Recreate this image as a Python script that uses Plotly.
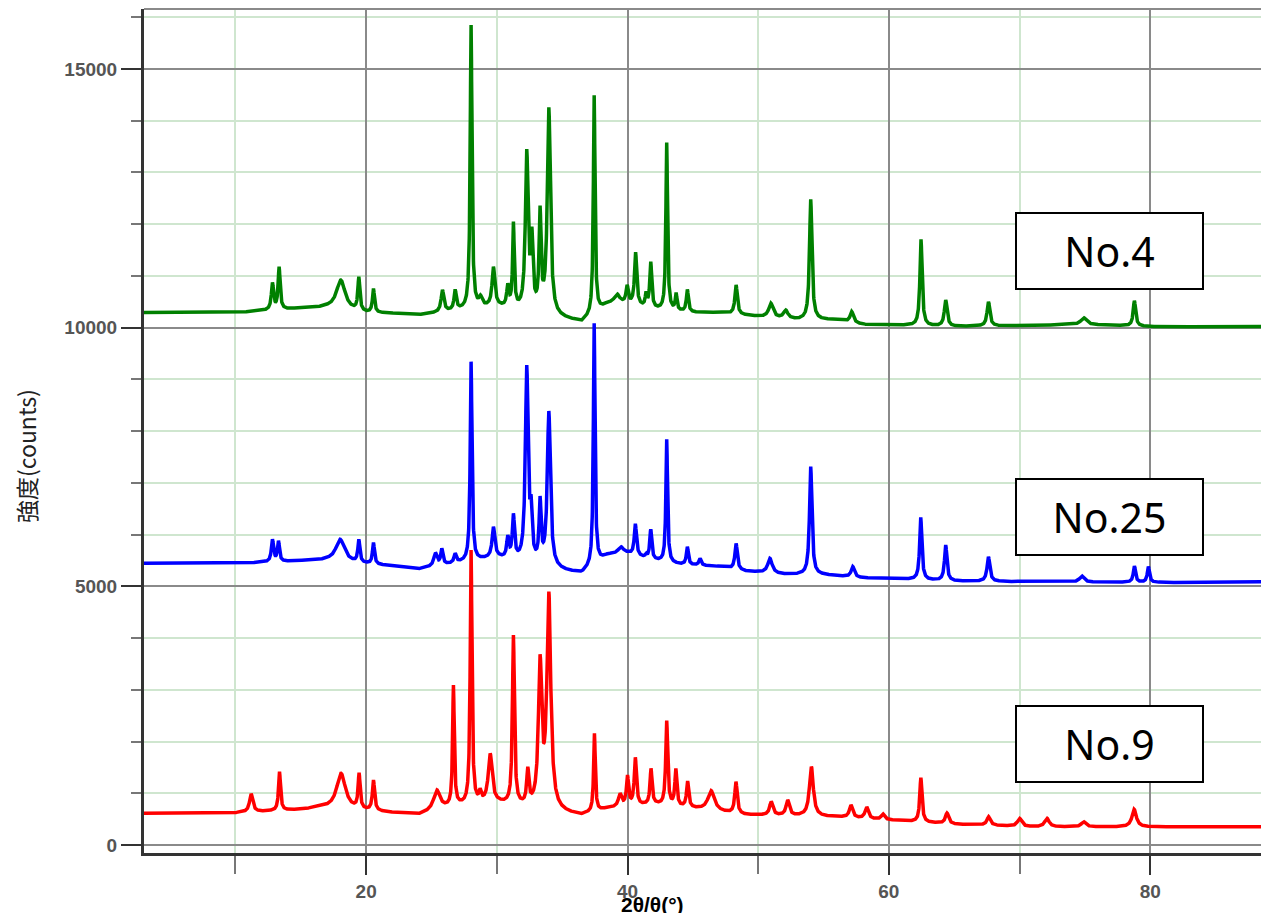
import numpy as np
import plotly.graph_objects as go

# ---------------- data ----------------
x_range = [3.0, 89.09]
y_range = [-155, 16158]
x_tick_major = 20
x_tick_minor = 10
y_tick_major = 5000
y_tick_minor = 1000

# No.4 (green)
no4_peak_pos = [12.83, 13.34, 18.06, 19.44, 20.56, 25.84, 26.81, 28.03, 28.75, 29.74,
                30.84, 31.27, 32.29, 32.68, 33.31, 33.98, 37.45, 39.2, 39.97, 40.62,
                41.42, 41.78, 43.0, 43.72, 44.58, 48.31, 50.97, 52.11, 54.02, 57.16,
                62.46, 64.35, 67.62, 74.9, 78.79, 88.9]
no4_peak_height = [10873, 11180, 10920, 10985, 10757, 10730, 10740, 15850, 10630, 11180,
                   10860, 12050, 13450, 11950, 12360, 14260, 14490, 10650, 10830, 11460,
                   10700, 11276, 13575, 10677, 10740, 10825, 10470, 10340, 12480, 10310,
                   11708, 10535, 10502, 10190, 10520, 10090]
no4_peak_fwhm = [0.2, 0.18, 0.8, 0.18, 0.18, 0.25, 0.2, 0.16, 0.3, 0.25,
                 0.2, 0.15, 0.25, 0.2, 0.18, 0.28, 0.15, 0.5, 0.2, 0.2,
                 0.15, 0.18, 0.15, 0.15, 0.18, 0.22, 0.4, 0.4, 0.22, 0.3,
                 0.2, 0.25, 0.25, 0.5, 0.22, 0.3]
no4_base_pos = [3, 10, 15, 17, 20, 22, 24, 27, 30, 35.5, 36.5, 38.5, 40, 42, 45, 47,
                50, 53, 56, 58, 60, 65, 70, 75, 80, 89.1]
no4_base_val = [10290, 10290, 10370, 10380, 10280, 10270, 10240, 10330, 10400, 10150, 10100,
                10450, 10450, 10350, 10290, 10290, 10210, 10150, 10150, 10060, 10050,
                10020, 10040, 10060, 10020, 10000]

# No.25 (blue)
no25_peak_pos = [12.83, 13.29, 18.01, 19.44, 20.56, 25.3, 25.79, 26.81, 28.03, 29.74,
                 30.84, 31.27, 32.29, 32.62, 33.31, 33.98, 37.45, 39.5, 40.6, 41.42,
                 41.78, 43.0, 44.58, 45.55, 48.31, 50.9, 54.02, 57.24, 62.44, 64.35,
                 67.62, 74.76, 78.79, 79.86, 88.9]
no25_peak_height = [5909, 5882, 5909, 5909, 5845, 5650, 5735, 5640, 9342, 6153,
                    5992, 6412, 9278, 6765, 6746, 8389, 10085, 5765, 6210, 5640,
                    6100, 7842, 5765, 5540, 5830, 5540, 7313, 5380, 6333, 5799,
                    5573, 5200, 5393, 5380, 5200]
no25_peak_fwhm = [0.2, 0.18, 0.8, 0.18, 0.18, 0.3, 0.2, 0.2, 0.16, 0.25,
                  0.2, 0.2, 0.25, 0.18, 0.18, 0.28, 0.15, 0.5, 0.2, 0.15,
                  0.18, 0.15, 0.18, 0.2, 0.22, 0.4, 0.22, 0.3, 0.2, 0.22,
                  0.25, 0.4, 0.2, 0.2, 0.3]
no25_base_pos = [3, 10, 15, 17, 20, 22.5, 24, 27, 30, 35.5, 36.5, 38.5, 40, 42, 44, 47,
                 49, 52, 55, 58, 60, 65, 70, 80, 89.1]
no25_base_val = [5445, 5440, 5490, 5500, 5430, 5380, 5330, 5450, 5550, 5280, 5250,
                 5600, 5620, 5500, 5420, 5380, 5290, 5230, 5220, 5160, 5150,
                 5100, 5090, 5075, 5070]

# No.9 (red)
no9_peak_pos = [11.2, 13.37, 18.08, 19.46, 20.56, 25.41, 26.68, 28.03, 28.72, 29.49,
                31.27, 32.37, 33.31, 33.98, 37.47, 39.43, 40.0, 40.6, 41.8, 43.0,
                43.7, 44.6, 46.4, 48.3, 51.0, 52.26, 54.07, 57.1, 58.3, 59.55,
                62.45, 64.45, 67.63, 70.0, 72.1, 74.9, 78.77]
no9_peak_height = [986, 1417, 1386, 1398, 1256, 1063, 3093, 5700, 1096, 1772,
                   4059, 1514, 3686, 4897, 2159, 1000, 1353, 1695, 1482, 2403,
                   1482, 1237, 1050, 1224, 837, 870, 1514, 773, 735, 600,
                   1302, 618, 547, 515, 515, 450, 690]
no9_peak_fwhm = [0.3, 0.18, 0.8, 0.18, 0.2, 0.6, 0.15, 0.16, 0.2, 0.35,
                 0.18, 0.2, 0.3, 0.35, 0.15, 0.3, 0.2, 0.2, 0.18, 0.18,
                 0.18, 0.2, 0.6, 0.22, 0.3, 0.3, 0.35, 0.3, 0.3, 0.3,
                 0.2, 0.3, 0.3, 0.4, 0.4, 0.4, 0.4]
no9_base_pos = [3, 10, 15, 16.5, 22, 24, 27, 30, 35.5, 36.5, 38.5, 42, 45, 49, 53,
                56, 60, 62, 65, 68, 70, 75, 80, 89.1]
no9_base_val = [612, 620, 680, 720, 620, 580, 750, 800, 600, 570, 700, 780, 700, 580,
                560, 540, 480, 450, 400, 380, 350, 350, 350, 350]

series_names = ["No.4", "No.25", "No.9"]
series_colors = ["#008000", "#0000ff", "#ff0000"]

x_title = "2θ/θ(°)"
y_title = "強度(counts)"


# ---------------- build the profiles from the peak tables ----------------
def lorentz(x, p, w):
    return 1.0 / (1.0 + ((x - p) / (w / 2.0)) ** 2)


def profile(x, base_pos, base_val, pos, height, fwhm):
    pos = np.asarray(pos, float)
    height = np.asarray(height, float)
    fwhm = np.asarray(fwhm, float)
    m = lorentz(pos[:, None], pos[None, :], fwhm[None, :])
    rhs = height - np.interp(pos, base_pos, base_val)
    amp = np.linalg.solve(m, rhs)
    y = np.interp(x, base_pos, base_val)
    for p, w, a in zip(pos, fwhm, amp):
        y = y + a * lorentz(x, p, w)
    return y


two_theta = np.arange(x_range[0], x_range[1] + 0.005, 0.01)
curves = [
    profile(two_theta, no4_base_pos, no4_base_val, no4_peak_pos, no4_peak_height, no4_peak_fwhm),
    profile(two_theta, no25_base_pos, no25_base_val, no25_peak_pos, no25_peak_height, no25_peak_fwhm),
    profile(two_theta, no9_base_pos, no9_base_val, no9_peak_pos, no9_peak_height, no9_peak_fwhm),
]

fig = go.Figure()
for name, color, yv in zip(series_names, series_colors, curves):
    fig.add_trace(go.Scatter(x=two_theta, y=yv, mode="lines", name=name,
                             line=dict(color=color, width=3.5), hoverinfo="skip"))

# ---------------- layout ----------------
# the page body adds an 8px offset, so the figure is 8px smaller than the window
OFF = 8
W, H = 1269 - OFF, 913 - OFF
# plot area in window pixels: left 144, right 1269, top 9, bottom 853
ML, MR, MT, MB = 144 - OFF, 0, 9 - OFF, H - (853 - OFF)


def px2paper_x(px):
    return (px - OFF - ML) / (W - ML - MR)


def px2paper_y(py):
    return (H - MB - (py - OFF)) / (H - MT - MB)


tick_font = dict(family="Liberation Sans, Arial, sans-serif", size=19, color="#555555", weight="bold")

fig.update_layout(
    width=W, height=H,
    margin=dict(l=ML, r=MR, t=MT, b=MB, autoexpand=False),
    paper_bgcolor="white", plot_bgcolor="white",
    showlegend=False, hovermode=False,
    xaxis=dict(
        range=x_range, tick0=0, dtick=x_tick_major,
        ticks="outside", ticklen=19, tickwidth=2, tickcolor="#333333",
        showline=True, linecolor="#333333", linewidth=3,
        showgrid=True, gridcolor="#8a8a8a", gridwidth=2, zeroline=False,
        tickfont=tick_font,
        minor=dict(tick0=0, dtick=x_tick_minor, ticks="outside", ticklen=18, tickwidth=1.5,
                   tickcolor="#777777", showgrid=True, gridcolor="#cfe6cf", gridwidth=1.5),
    ),
    yaxis=dict(
        range=y_range, tick0=0, dtick=y_tick_major, tickformat="d",
        ticks="outside", ticklen=20, tickwidth=2, tickcolor="#333333",
        showline=True, linecolor="#333333", linewidth=3,
        showgrid=True, gridcolor="#8a8a8a", gridwidth=2, zeroline=False,
        tickfont=tick_font,
        minor=dict(tick0=0, dtick=y_tick_minor, ticks="outside", ticklen=10, tickwidth=1.5,
                   tickcolor="#777777", showgrid=True, gridcolor="#cfe6cf", gridwidth=1.5),
    ),
)

# top frame line
fig.add_shape(type="line", xref="paper", yref="paper", x0=0, x1=1, y0=1, y1=1,
              line=dict(color="#8a8a8a", width=2))

# sample label boxes
box_centers_y = [250.5, 516.5, 744]
for name, cy in zip(series_names, box_centers_y):
    fig.add_annotation(
        text=name, xref="paper", yref="paper",
        x=px2paper_x(1109.5), y=px2paper_y(cy), xanchor="center", yanchor="middle",
        showarrow=False, width=185, height=74, align="center", valign="middle",
        bordercolor="black", borderwidth=2, borderpad=0, bgcolor="white",
        font=dict(family="Noto Sans, sans-serif", size=41, color="black"),
    )

# axis titles
fig.add_annotation(
    text=x_title, xref="paper", yref="paper",
    x=px2paper_x(652), y=px2paper_y(892), xanchor="center", yanchor="top",
    showarrow=False, borderpad=0,
    font=dict(family="Liberation Sans, Arial, sans-serif", size=21,
              color="black", weight="bold"),
)
fig.add_annotation(
    text=y_title, xref="paper", yref="paper",
    x=px2paper_x(26), y=px2paper_y(456), xanchor="center", yanchor="middle",
    textangle=-90, showarrow=False,
    font=dict(family="Noto Sans CJK JP, sans-serif", size=23, color="#222222"),
)

fig.write_html("out.html")
